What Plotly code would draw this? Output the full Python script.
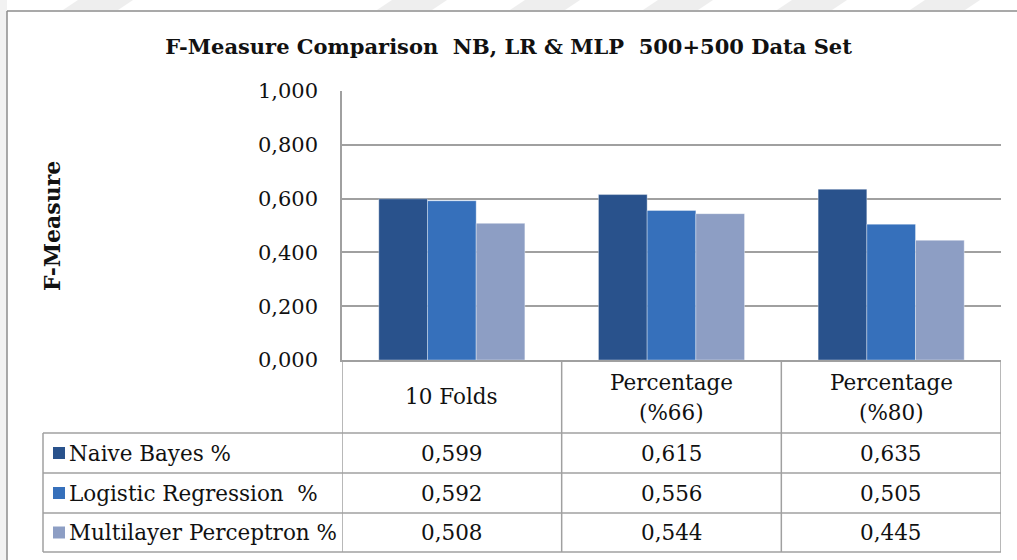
import plotly.graph_objects as go

# ---------------- data ----------------
categories = ["10 Folds", "Percentage<br>(%66)", "Percentage<br>(%80)"]
series_names = ["Naive Bayes %", "Logistic Regression  %", "Multilayer Perceptron %"]
naive_bayes = [0.599, 0.615, 0.635]
logistic_regression = [0.592, 0.556, 0.505]
multilayer_perceptron = [0.508, 0.544, 0.445]
y_ticks = [0.0, 0.2, 0.4, 0.6, 0.8, 1.0]
title_text = "F-Measure Comparison  NB, LR & MLP  500+500 Data Set"
y_title = "F-Measure"

series_values = [naive_bayes, logistic_regression, multilayer_perceptron]
series_colors = ["#29528C", "#3670BB", "#8D9EC4"]

# ---------------- layout geometry (pixels) ----------------
W, H = 1017, 560
PL, PR, PT, PB = 342, 1001, 91, 360   # plot area
TABLE_LEFT = 43
ROW_LINES = [433, 473, 513, 552]
HEADER_MID = 397
HEADER_LINE_GAP = 30

def px(xp):
    return (xp - PL) / (PR - PL)

def py(yp):
    return (PB - yp) / (PB - PT)

FONT = "DejaVu Serif"
GRID = "#A0A0A0"
TXT = "#111111"
TS = 21.5

fig = go.Figure()
x_idx = list(range(len(categories)))
for name, vals, col in zip(series_names, series_values, series_colors):
    fig.add_trace(go.Bar(
        x=x_idx, y=vals, name=name,
        marker=dict(color=col, line=dict(width=0.6, color="rgba(255,255,255,0.6)")),
        showlegend=False,
    ))

shapes = []
# faint watermark stripes at the top
for x0 in [78, 392, 525, 658, 792, 925]:
    shapes.append(dict(type="path", xref="paper", yref="paper", layer="below",
                       path=f"M {px(x0)},{py(0)} L {px(x0+55)},{py(0)} L {px(x0+40)},{py(10)} L {px(x0-15)},{py(10)} Z",
                       fillcolor="#EEEEEE", line=dict(width=0)))
# left grey margin
shapes.append(dict(type="rect", xref="paper", yref="paper", layer="below",
                   x0=px(0), x1=px(7), y0=py(560), y1=py(0), fillcolor="#F2F2F2", line=dict(width=0)))
# outer frame (top and left)
shapes.append(dict(type="line", xref="paper", yref="paper", x0=px(7), x1=px(1017), y0=py(11), y1=py(11),
                   line=dict(color="#8C8C8C", width=1.5)))
shapes.append(dict(type="line", xref="paper", yref="paper", x0=px(7), x1=px(7), y0=py(11), y1=py(560),
                   line=dict(color="#8C8C8C", width=1.5)))

# table column separators (category boundaries on the x axis)
for b in [-0.5, 0.5, 1.5, 2.5]:
    shapes.append(dict(type="line", xref="x", yref="paper", x0=b, x1=b, y0=py(PB), y1=py(ROW_LINES[-1]),
                       line=dict(color=GRID, width=1.5)))
# table left border
shapes.append(dict(type="line", xref="paper", yref="paper", x0=px(TABLE_LEFT), x1=px(TABLE_LEFT),
                   y0=py(ROW_LINES[0]), y1=py(ROW_LINES[-1]), line=dict(color=GRID, width=1.5)))
# row lines
for r in ROW_LINES:
    shapes.append(dict(type="line", xref="paper", yref="paper", x0=px(TABLE_LEFT), x1=1,
                       y0=py(r), y1=py(r), line=dict(color=GRID, width=1.5)))

annotations = []
# header category labels (one annotation per text line for Excel-like spacing)
for i, c in enumerate(categories):
    lines = c.split("<br>")
    n = len(lines)
    for j, ln in enumerate(lines):
        yc = HEADER_MID + (j - (n - 1) / 2) * HEADER_LINE_GAP
        annotations.append(dict(x=i, xref="x", y=py(yc), yref="paper", text=ln, showarrow=False,
                                xanchor="center", yanchor="middle",
                                font=dict(family=FONT, size=TS, color=TXT)))
# rows: legend key + name + values
for k, (name, vals, col) in enumerate(zip(series_names, series_values, series_colors)):
    yc = (ROW_LINES[k] + ROW_LINES[k + 1]) / 2
    shapes.append(dict(type="rect", xref="paper", yref="paper",
                       x0=px(53), x1=px(65), y0=py(yc + 6), y1=py(yc - 6),
                       fillcolor=col, line=dict(width=0)))
    annotations.append(dict(x=px(67), xref="paper", y=py(yc), yref="paper", text=name, showarrow=False,
                            xanchor="left", yanchor="middle",
                            font=dict(family=FONT, size=TS, color=TXT)))
    for i, v in enumerate(vals):
        annotations.append(dict(x=i, xref="x", y=py(yc), yref="paper",
                                text=f"{v:.3f}".replace(".", ","), showarrow=False,
                                xanchor="center", yanchor="middle",
                                font=dict(family=FONT, size=TS, color=TXT)))
# y axis title
annotations.append(dict(x=px(52), xref="paper", y=py(226), yref="paper", text=f"<b>{y_title}</b>",
                        showarrow=False, textangle=-90, xanchor="center", yanchor="middle",
                        font=dict(family=FONT, size=22, color=TXT)))

fig.update_layout(
    width=W, height=H,
    margin=dict(l=PL, r=W - PR, t=PT, b=H - PB, pad=0),
    paper_bgcolor="white", plot_bgcolor="white",
    separators=", ",
    barmode="group", bargap=0.335, bargroupgap=0,
    title=dict(text=f"<b>{title_text}</b>", x=0.5, xref="container", xanchor="center",
               y=1 - 47 / H, yref="container", yanchor="middle",
               font=dict(family=FONT, size=21, color=TXT)),
    xaxis=dict(type="linear", range=[-0.5, 2.5], showticklabels=False, showgrid=False, zeroline=False,
               showline=True, linecolor=GRID, linewidth=1.5, ticks=""),
    yaxis=dict(range=[0, 1], tickvals=y_ticks, tickformat=".3f", showgrid=True, gridcolor=GRID,
               gridwidth=1.5, zeroline=False, showline=True, linecolor=GRID, linewidth=1.5,
               ticks="", ticklabelstandoff=18,
               tickfont=dict(family=FONT, size=21, color=TXT)),
    shapes=shapes, annotations=annotations, showlegend=False,
)

fig.write_html("out.html", config={"displayModeBar": False},
               post_script="document.body.style.margin='0';document.body.style.overflow='hidden';")
